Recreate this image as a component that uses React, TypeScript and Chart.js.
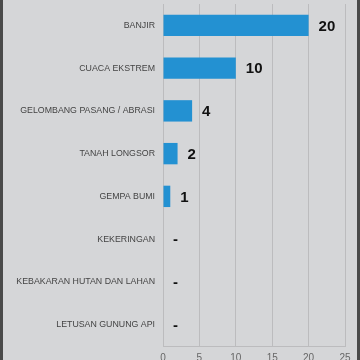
import React, { useEffect, useRef } from "react";
import { Chart, registerables } from "chart.js";

Chart.register(...registerables);

const categories = [
  "BANJIR",
  "CUACA EKSTREM",
  "GELOMBANG PASANG / ABRASI",
  "TANAH LONGSOR",
  "GEMPA BUMI",
  "KEKERINGAN",
  "KEBAKARAN HUTAN DAN LAHAN",
  "LETUSAN GUNUNG API",
];
const values = [20, 10, 4, 2, 1, 0, 0, 0];
const xTicks = [0, 5, 10, 15, 20, 25];

const valueLabels = {
  id: "valueLabels",
  afterDatasetsDraw(chart: any) {
    const ctx = chart.ctx;
    const meta = chart.getDatasetMeta(0);
    ctx.save();
    ctx.font = "bold 15px 'Liberation Sans', Arial, sans-serif";
    ctx.fillStyle = "#111";
    ctx.textAlign = "left";
    ctx.textBaseline = "middle";
    meta.data.forEach((bar: any, i: number) => {
      const v = values[i];
      const txt = v === 0 ? "-" : String(v);
      ctx.fillText(txt, bar.x + 10, bar.y + 1);
    });
    ctx.restore();
  },
};

export default function App() {
  const ref = useRef<HTMLCanvasElement>(null);
  useEffect(() => {
    document.body.style.margin = "0";
    const chart = new Chart(ref.current!, {
      type: "bar",
      data: {
        labels: categories,
        datasets: [
          {
            data: values,
            backgroundColor: "#2391d2",
            barPercentage: 0.5,
            categoryPercentage: 1,
          },
        ],
      },
      plugins: [valueLabels],
      options: {
        indexAxis: "y",
        animation: false,
        responsive: false,
        layout: { padding: { top: 4, right: 15, left: 0, bottom: 0 } },
        plugins: { legend: { display: false }, tooltip: { enabled: false } },
        scales: {
          x: {
            min: 0,
            max: 25,
            afterBuildTicks(scale: any) {
              scale.ticks = xTicks.map((v) => ({ value: v }));
            },
            afterFit(scale: any) {
              scale.height = 14;
            },
            grid: { color: "#bcbcbe", drawTicks: false, lineWidth: 1 },
            border: { display: true, color: "#bcbcbe" },
            ticks: {
              padding: 6,
              color: "#666",
              font: { size: 10, family: "'Liberation Sans', Arial, sans-serif" },
            },
          },
          y: {
            afterFit(scale: any) {
              scale.width = 163;
              scale.paddingTop = 0;
              scale.paddingBottom = 0;
            },
            grid: { display: false, drawTicks: false },
            border: { display: false },
            ticks: {
              padding: 8,
              color: "#444",
              font: { size: 8.8, family: "'Liberation Sans', Arial, sans-serif" },
            },
          },
        },
      },
    });
    return () => chart.destroy();
  }, []);
  return (
    <div style={{ width: 360, height: 360, background: "#4a4a4a", position: "relative" }}>
      <div style={{ position: "absolute", left: 3, top: 0, width: 354, height: 360, background: "#d5d6d8" }} />
      <canvas ref={ref} width={360} height={360} style={{ position: "absolute", left: 0, top: 0 }} />
    </div>
  );
}
